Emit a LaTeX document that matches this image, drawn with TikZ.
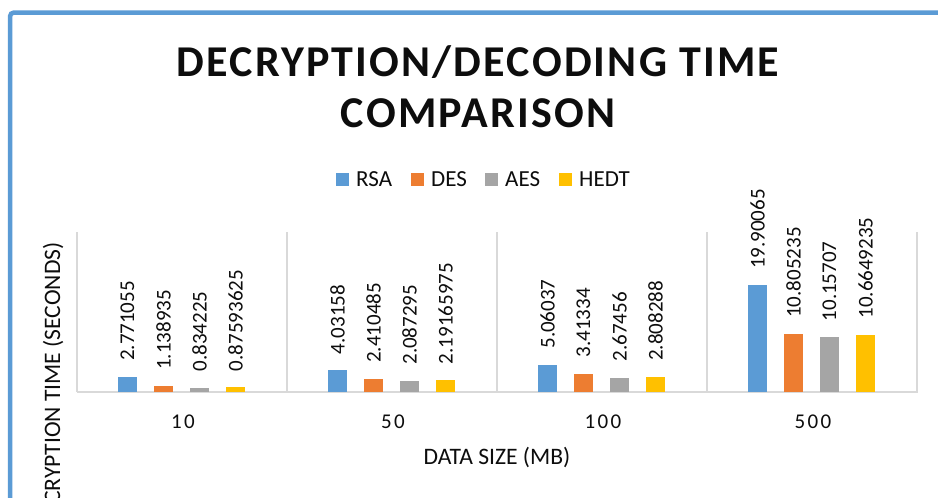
\documentclass[tikz,border=0pt]{standalone}
\usepackage{fontspec}
\setmainfont{Carlito}
\newfontfamily\titlefamily[LetterSpace=5]{Carlito}
\newfontfamily\catfamily[LetterSpace=11]{Carlito}
\definecolor{rsa}{HTML}{5B9BD5}
\definecolor{des}{HTML}{ED7D31}
\definecolor{aes}{HTML}{A5A5A5}
\definecolor{hedt}{HTML}{FFC000}
\definecolor{grid}{HTML}{D9D9D9}
\definecolor{ink}{HTML}{0D0D0D}
\tikzset{
  titletext/.style={font=\titlefamily\bfseries\fontsize{44}{50}\selectfont, text=ink, anchor=base, inner sep=0},
  legendtext/.style={font=\fontsize{23}{26}\selectfont, text=ink, anchor=base west, inner sep=0},
  vallabel/.style={font=\fontsize{21}{24}\selectfont, text=ink, rotate=90, anchor=west, inner sep=0},
  catlabel/.style={font=\catfamily\fontsize{21}{24}\selectfont, text=ink, anchor=base, inner sep=0},
  axistitle/.style={font=\fontsize{23.6}{27}\selectfont, text=ink, inner sep=0},
  gridline/.style={draw=grid, line width=1.5pt},
}
\begin{document}
\begin{tikzpicture}[x=1pt,y=-1pt]
\useasboundingbox (0,0) rectangle (938,498);
\clip (0,0) rectangle (938,498);
\fill[white] (0,0) rectangle (938,498);
% chart frame
\draw[rsa, line width=4.5pt, rounded corners=4pt] (10,12.5) rectangle (980,560);
% title
\node[titletext] (title1) at (478,76) {DECRYPTION/DECODING TIME};
\node[titletext] (title2) at (478,127) {COMPARISON};
% legend
\fill[rsa]  (336,173) rectangle (349,186);
\node[legendtext] (legrsa) at (356,186) {RSA};
\fill[des]  (411,173) rectangle (424,186);
\node[legendtext] (legdes) at (431,186) {DES};
\fill[aes]  (485,173) rectangle (498,186);
\node[legendtext] (legaes) at (505,186) {AES};
\fill[hedt] (559,173) rectangle (572,186);
\node[legendtext] (leghedt) at (579,186) {HEDT};
% plot area grid
\foreach \k in {0,...,4}
  \draw[gridline] ({77+210*\k},232) -- ({77+210*\k},392);
\draw[gridline] (77,392) -- (918,392);
% bars and value labels
\foreach \k/\cat/\a/\b/\cc/\d in {
    0/10/2.771055/1.138935/0.834225/0.87593625,
    1/50/4.03158/2.410485/2.087295/2.19165975,
    2/100/5.06037/3.41334/2.67456/2.808288,
    3/500/19.90065/10.805235/10.15707/10.6649235}{
  \node[catlabel] (cat\k) at ({183+210*\k},428) {\cat};
  \foreach \j/\v/\col in {0/\a/rsa,1/\b/des,2/\cc/aes,3/\d/hedt}{
    \fill[\col] ({118+210*\k+36*\j},392) rectangle ++(19,{-5.37*\v});
    \node[vallabel] (lab\k\j) at ({127.5+210*\k+36*\j},{392-5.37*\v-16}) {\v};
  }
}
% axis titles
\node[axistitle, anchor=base] (xtitle) at (497,464) {DATA SIZE (MB)};
\node[axistitle, rotate=90, anchor=base east] (ytitle) at (60,242) {DECRYPTION TIME (SECONDS)};
\end{tikzpicture}
\end{document}
